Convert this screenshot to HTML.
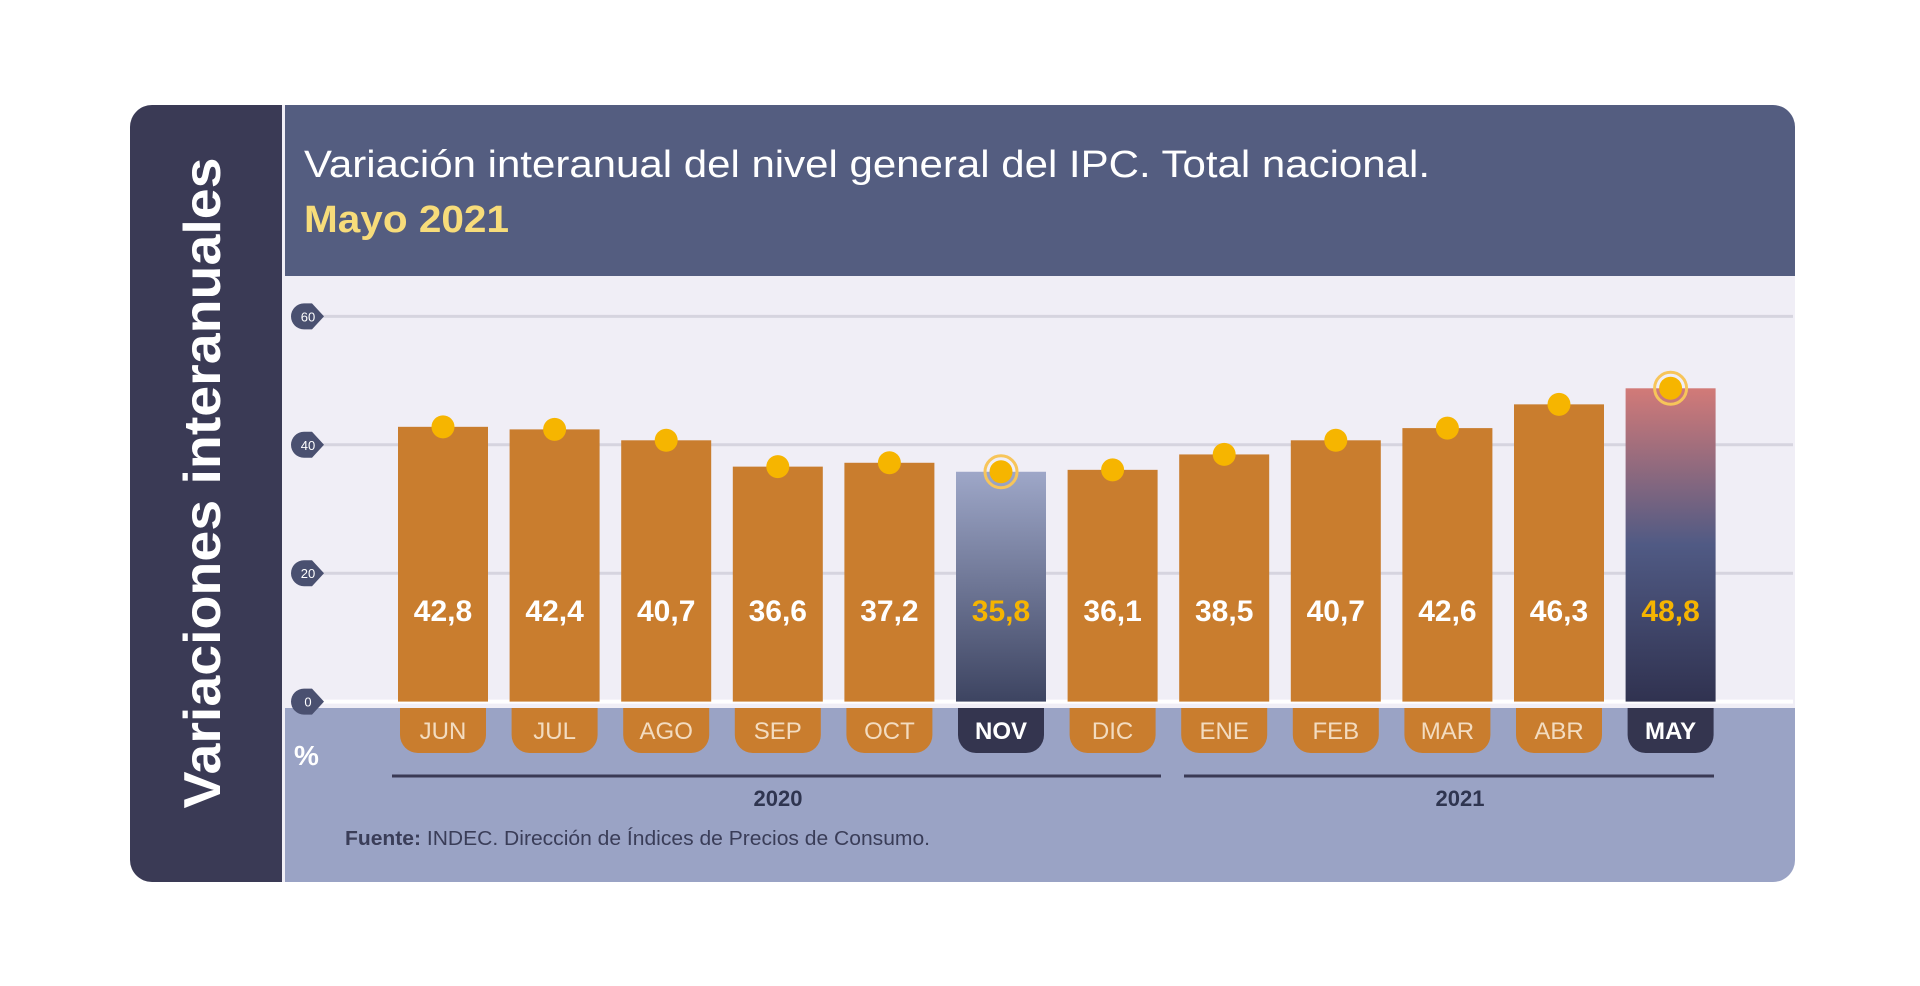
<!DOCTYPE html>
<html><head><meta charset="utf-8"><style>
html,body{margin:0;padding:0;background:#fff;width:1920px;height:986px;overflow:hidden}
svg{display:block;font-family:"Liberation Sans",sans-serif}
</style></head><body>
<svg id="chart" width="1920" height="986" viewBox="0 0 1920 986">
<defs>
<linearGradient id="gNov" x1="0" y1="0" x2="0" y2="1"><stop offset="0" stop-color="#9ea7c8"/><stop offset="1" stop-color="#3d4461"/></linearGradient>
<linearGradient id="gMay" x1="0" y1="0" x2="0" y2="1"><stop offset="0" stop-color="#d27a78"/><stop offset="0.5" stop-color="#505a84"/><stop offset="1" stop-color="#303250"/></linearGradient>
<clipPath id="card"><rect x="130" y="105" width="1665" height="777" rx="22"/></clipPath>
</defs>
<g clip-path="url(#card)">
<rect x="130" y="105" width="1665" height="777" fill="#f0eef6"/>
<rect x="130" y="105" width="152" height="777" fill="#3a3a55"/>
<rect x="285" y="105" width="1510" height="171" fill="#545d80"/>
<rect x="285" y="708" width="1510" height="174" fill="#9aa3c5"/>
</g>
<text x="220" y="483" transform="rotate(-90 220 483)" text-anchor="middle" fill="#fff" font-weight="bold" font-size="52" textLength="651" lengthAdjust="spacingAndGlyphs">Variaciones interanuales</text>
<text x="304" y="177" fill="#fff" font-size="38" textLength="1126" lengthAdjust="spacingAndGlyphs">Variación interanual del nivel general del IPC. Total nacional.</text>
<text x="304" y="232" fill="#f7dc7a" font-weight="bold" font-size="38" textLength="205" lengthAdjust="spacingAndGlyphs">Mayo 2021</text>
<g id="grid"></g>
<g id="bars"></g>
<line x1="392" y1="776" x2="1161" y2="776" stroke="#3a3a55" stroke-width="3"/>
<line x1="1184" y1="776" x2="1714" y2="776" stroke="#3a3a55" stroke-width="3"/>
<text x="778" y="806" text-anchor="middle" fill="#2f3550" font-weight="bold" font-size="22">2020</text>
<text x="1460" y="806" text-anchor="middle" fill="#2f3550" font-weight="bold" font-size="22">2021</text>
<text x="294" y="765" fill="#fff" font-weight="bold" font-size="28">%</text>
<text x="345" y="845" fill="#3a3d58" font-size="20" textLength="585" lengthAdjust="spacingAndGlyphs"><tspan font-weight="bold">Fuente:</tspan> INDEC. Dirección de Índices de Precios de Consumo.</text>
</svg>
<script>
const months=["JUN","JUL","AGO","SEP","OCT","NOV","DIC","ENE","FEB","MAR","ABR","MAY"];
const values=[42.8,42.4,40.7,36.6,37.2,35.8,36.1,38.5,40.7,42.6,46.3,48.8];
const labels=["42,8","42,4","40,7","36,6","37,2","35,8","36,1","38,5","40,7","42,6","46,3","48,8"];
const ticks=[0,20,40,60];
const highlight=["NOV","MAY"];
const NS="http://www.w3.org/2000/svg";
const y0=701.6,pxu=6.42;
function y(v){return y0-v*pxu;}
function x(i){return 443+i*111.6;}
function mk(t,a,p){const e=document.createElementNS(NS,t);for(const k in a)e.setAttribute(k,a[k]);p.appendChild(e);return e;}
const grid=document.getElementById('grid'),bars=document.getElementById('bars');
ticks.forEach(t=>{
 const l=mk('line',{x1:300,x2:1793,y1:y(t),y2:y(t),stroke:t===0?'#ffffff':'#d6d4df','stroke-width':t===0?4:3},grid);
 
 
 const m=mk('path',{d:`M${304} ${y(t)-13} h8 l12 13 l-12 13 h-8 a13 13 0 0 1 0 -26z`,fill:'#4a5070'},grid);
 
 
 const tx=mk('text',{x:308,y:y(t)+5,'text-anchor':'middle',fill:'#fff','font-size':13},grid);
 tx.textContent=t;
 
 
});
months.forEach((m,i)=>{
 const hl=highlight.includes(m);
 const cx=x(i),w=90;
 const fill=m==='NOV'?'url(#gNov)':m==='MAY'?'url(#gMay)':'#c97d2e';
 const b=mk('rect',{x:cx-w/2,y:y(values[i]),width:w,height:y0-y(values[i]),fill:fill},bars);
 
 
 const p=mk('path',{d:`M${cx-43} 708 h86 v27 a18 18 0 0 1 -18 18 h-50 a18 18 0 0 1 -18 -18z`,fill:hl?'#34354f':'#c97d2e'},bars);
 
 
 const ml=mk('text',{x:cx,y:739,'text-anchor':'middle',fill:hl?'#fff':'#f3dcc0','font-size':24,'font-weight':hl?'bold':'normal'},bars);
 ml.textContent=m;
 
 
 const vl=mk('text',{x:cx,y:621,'text-anchor':'middle',fill:hl?'#f5b400':'#fff','font-size':30,'font-weight':'bold'},bars);
 vl.textContent=labels[i];
 
 
 if(hl){
  const r=mk('circle',{cx:cx,cy:y(values[i]),r:16,fill:'none',stroke:'#f7c55a','stroke-width':3},bars);
  
  
 }
 const d=mk('circle',{cx:cx,cy:y(values[i]),r:11.5,fill:'#f6b500'},bars);
 
 
});
</script>
</body></html>
